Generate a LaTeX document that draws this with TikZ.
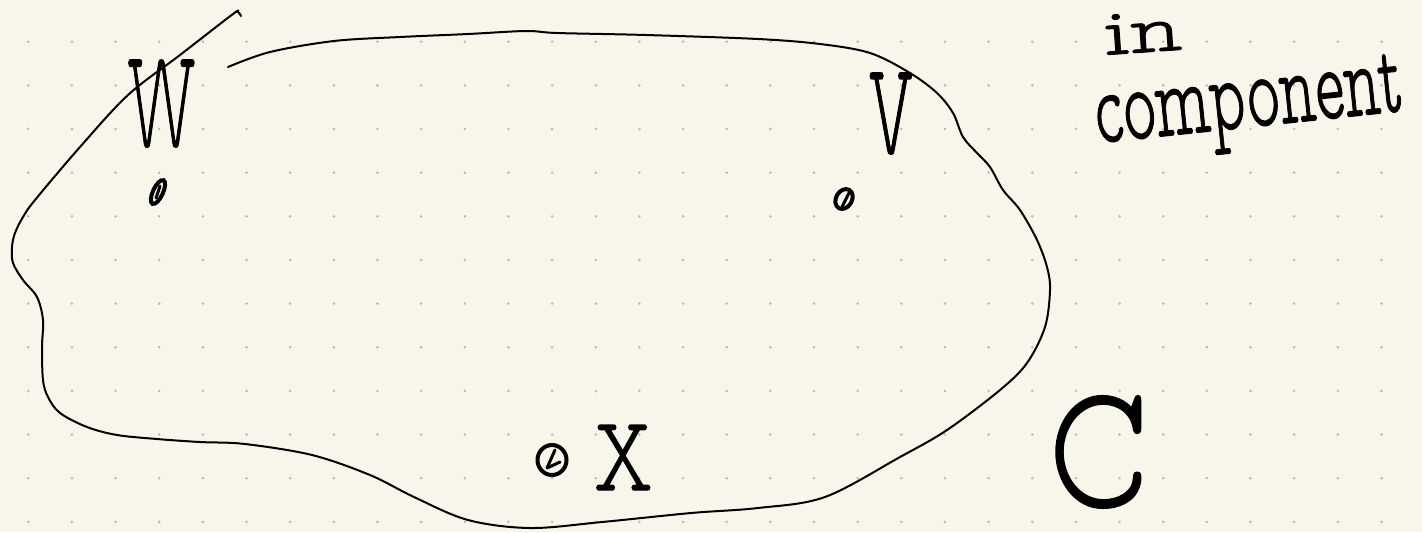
\documentclass[tikz,border=0pt]{standalone}
\usepackage{fontspec}
\usepackage{graphicx}
\newfontfamily\hand[FakeBold=1.2]{Latin Modern Mono Prop Light}
\usetikzlibrary{shapes.geometric}
\definecolor{paper}{RGB}{248,246,235}
\definecolor{dotc}{RGB}{185,185,180}
\newcommand{\hw}[3]{\resizebox{#1}{#2}{\hand #3}}
\begin{document}
\begin{tikzpicture}[x=0.5pt,y=-0.5pt,
  lbl/.style={inner sep=0pt, anchor=base west},
  vtx/.style={draw, ellipse, line width=2pt, inner sep=0pt},
  outline/.style={line width=1pt, line cap=round, line join=round},
  scrib/.style={line width=1.5pt, line cap=round, line join=round}]
\fill[paper] (0,0) rectangle (1422,532);
\useasboundingbox (0,0) rectangle (1422,532);
\foreach \i in {0,...,31}{\foreach \j in {0,...,11}{\fill[dotc] (28.3+43.65*\i,41.7+43.65*\j) circle[radius=0.7pt];}}
% outline of component C
\draw[outline] plot[smooth,tension=0.55] coordinates {
(228,67) (270,52) (334,41) (400,37) (468,34) (526,31) (557,33) (646,35) (758,39)
(820,44) (870,53) (910,73) (937,93) (953,113) (963,137) (977,153) (990,167) (1003,190)
(1020,210) (1037,240) (1047,267) (1050,290) (1045,327) (1027,363) (1000,390) (947,430)
(900,457) (825,497) (758,508) (691,513) (602,522) (530,528) (468,520) (414,497) (370,475)
(312,455) (245,444) (200,442) (157,439) (117,435) (87,427) (60,413) (48,397) (43,380)
(42,347) (43,320) (37,297) (23,280) (13,263) (12,247) (15,233) (23,217) (35,200)
(80,147) (128,95) (180,55) (233,14) (238,12) (241,16)};
% labels
\node[lbl] (W) at (127,146) {\hw{34pt}{43pt}{W}};
\node[lbl] (V) at (868,153) {\hw{22.5pt}{40pt}{V}};
\node[lbl] (X) at (593,490) {\hw{30pt}{32.5pt}{X}};
\node[lbl] (C) at (1048,506) {\hw{50pt}{55pt}{C}};
\node[lbl, rotate=4] (in) at (1105,55) {\hw{39pt}{20pt}{in}};
\node[lbl, rotate=6] (comp) at (1097,143) {\hw{155pt}{29pt}{component}};
% vertices
\node[vtx, minimum width=5pt, minimum height=13pt, rotate=-25] (w) at (158,192) {};
\node[vtx, minimum width=8pt, minimum height=10.5pt, rotate=-30] (v) at (844,199) {};
\node[vtx, minimum width=14.5pt, minimum height=15pt] (x) at (552,460) {};
\draw[scrib] ([xshift=1pt,yshift=3pt]w.center) -- ([xshift=-1pt,yshift=-3pt]w.center);
\draw[scrib] ([xshift=3pt,yshift=4pt]v.center) -- ([xshift=-1pt,yshift=-4pt]v.center);
\draw[scrib] ([xshift=1.5pt,yshift=5pt]x.center) -- ([xshift=-2.5pt,yshift=-4pt]x.center) -- ([xshift=4pt,yshift=-1pt]x.center);
\end{tikzpicture}
\end{document}
